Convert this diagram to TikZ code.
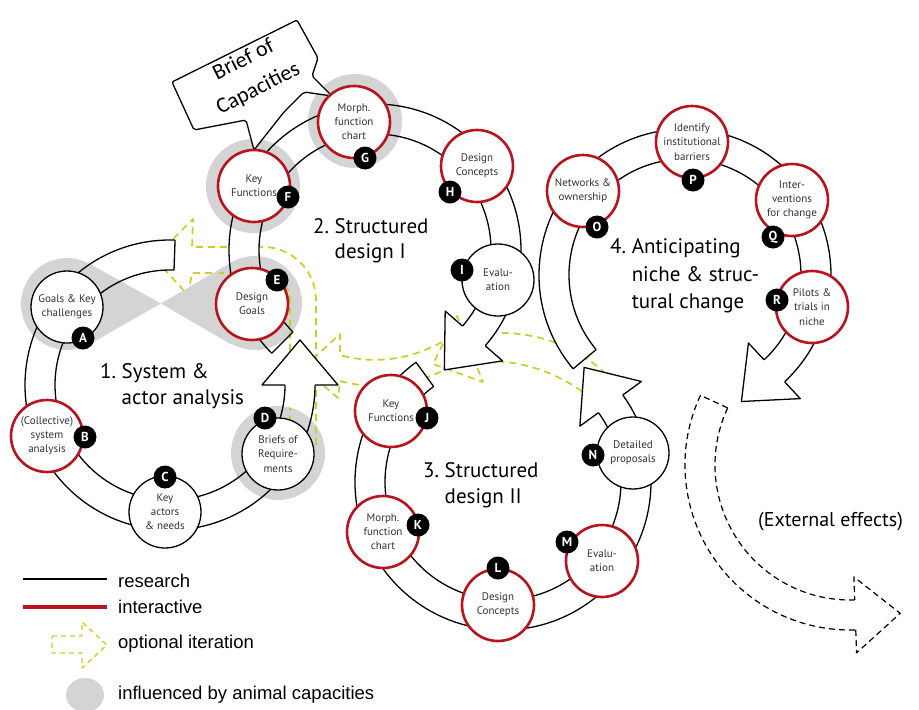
\documentclass[tikz,border=0pt]{standalone}
\usepackage{fontspec}
\setmainfont{PT Sans}
\newfontfamily\calfont{Carlito}
\newfontfamily\legfont{Liberation Sans}
\usetikzlibrary{calc}
\definecolor{ired}{RGB}{185,20,30}
\definecolor{lgrey}{RGB}{212,212,212}
\definecolor{iyel}{RGB}{205,205,40}
\definecolor{ntxt}{RGB}{50,50,50}

\newcommand{\BandFill}[5]{%
  \pgfmathsetmacro\bfRin{#3-15}\pgfmathsetmacro\bfRout{#3+15}%
  \fill[white] ($(#1,#2)+(#4:\bfRout)$) arc[start angle=#4,end angle=#5,radius=\bfRout]
    -- ($(#1,#2)+(#5:\bfRin)$) arc[start angle=#5,end angle=#4,radius=\bfRin] -- cycle;}
\newcommand{\BandLine}[6]{%
  \pgfmathsetmacro\blRin{#3-15}\pgfmathsetmacro\blRout{#3+15}%
  \draw[#6] ($(#1,#2)+(#4:\blRout)$) arc[start angle=#4,end angle=#5,radius=\blRout];
  \draw[#6] ($(#1,#2)+(#4:\blRin)$) arc[start angle=#4,end angle=#5,radius=\blRin];
  \draw[#6] ($(#1,#2)+(#4:\blRin)$) -- ($(#1,#2)+(#4:\blRout)$);}
\newcommand{\BandHead}[6]{%
  \pgfmathsetmacro\bhA{#3+15}\pgfmathsetmacro\bhB{#3+38}%
  \pgfmathsetmacro\bhC{#3-38}\pgfmathsetmacro\bhD{#3-15}\pgfmathsetmacro\bhT{#4+90*(#5)}%
  \coordinate (hn1) at ($(#1,#2)+(#4:\bhA)$);
  \coordinate (hw1) at ($(#1,#2)+(#4:\bhB)$);
  \coordinate (htp) at ($(#1,#2)+(#4:#3)+(\bhT:45)$);
  \coordinate (hw2) at ($(#1,#2)+(#4:\bhC)$);
  \coordinate (hn2) at ($(#1,#2)+(#4:\bhD)$);
  \fill[white] (hn1)--(hw1)--(htp)--(hw2)--(hn2)--cycle;
  \draw[#6] (hn1)--(hw1)--(htp)--(hw2)--(hn2);}
\newcommand{\YArrows}{%
  \draw[yel] (316,445) -- (316,300) arc[start angle=0,end angle=-90,radius=53] -- (192,247)
     -- (193,219) -- (154,258) -- (188,295) -- (192,273) -- (263,273)
     arc[start angle=-90,end angle=0,radius=27] -- (290,445);
  \draw[yel] (452,336) .. controls (418,358) and (378,366) .. (340,355) -- (340,334)
     -- (303,368) -- (338,398) -- (340,381) .. controls (380,392) and (425,384) .. (462,360);
  \draw[yel] (606,374) .. controls (570,340) and (520,326) .. (465,336) -- (457,316)
     -- (433,364) -- (483,382) -- (475,362) .. controls (520,358) and (555,372) .. (586,394);}

\tikzset{
 nd/.style={circle, minimum size=72pt, inner sep=0pt, fill=white, align=center, text=ntxt, font=\fontsize{11}{14.2}\selectfont},
 rnode/.style={nd, draw=ired, line width=2.6pt},
 knode/.style={nd, draw=black, line width=1.3pt},
 badge/.style={circle, fill=black, text=white, minimum size=23pt, inner sep=0pt, font=\bfseries\fontsize{13}{13}\selectfont},
 ring/.style={line width=1.3pt},
 extl/.style={line width=1.2pt, dash pattern=on 6pt off 4pt},
 yel/.style={iyel, line width=1.7pt, dash pattern=on 7pt off 5pt},
 ttl/.style={anchor=base west, inner sep=0pt, font=\fontsize{21}{21}\selectfont},
 leg/.style={anchor=base west, inner sep=0pt, font=\legfont\fontsize{18.5}{18.5}\selectfont},
}

\begin{document}
\begin{tikzpicture}[x=1pt,y=-1pt,line join=round]
\useasboundingbox (0,0) rectangle (919,710);
\fill[white] (0,0) rectangle (919,710);

% yellow optional iterations (beneath)
\YArrows

% band fills
\BandFill{170}{385}{130}{-88}{-360}
\BandFill{375}{250}{131}{135}{401}
\BandFill{503}{482}{133}{234}{-36}
\BandFill{685}{275}{131}{140}{407}

% grey influence areas
\fill[lgrey] (67,304) circle[radius=46] (255,303) circle[radius=47];
\fill[lgrey] (161,303.5) -- (89.5,263.9) -- (89.5,344.1) -- cycle;
\fill[lgrey] (161,303.5) -- (231.5,262.3) -- (231.5,344.7) -- cycle;
\fill[lgrey] (278,453) circle[radius=47] (253,186) circle[radius=47] (355,121) circle[radius=47];

\begin{scope}
\clip (255,303) circle[radius=47] (278,453) circle[radius=47];
\YArrows
\end{scope}

% band outlines
\BandLine{170}{385}{130}{-88}{-360}{ring}
\BandLine{375}{250}{131}{135}{401}{ring}
\BandLine{503}{482}{133}{234}{-36}{ring}
\BandLine{685}{275}{131}{140}{407}{ring}
\BandLine{850}{465}{150}{205}{88}{extl}

% arrow heads
\BandHead{170}{385}{130}{-360}{-1}{ring}
\BandHead{375}{250}{131}{401}{1}{ring}
\BandHead{503}{482}{133}{-36}{-1}{ring}
\BandHead{685}{275}{131}{407}{1}{ring}
\BandHead{850}{465}{150}{88}{-1}{extl}

% callout
\draw[line width=1.3pt, fill=white, rounded corners=2pt] (172,82) -- (297,20) -- (318,58) -- (312,76)
  -- (332,96) -- (304,92) -- (284,112) -- (254,150) -- (246,120) -- (194,130) -- cycle;
\node[rotate=27, align=center, inner sep=0pt, font=\calfont\fontsize{22}{32}\selectfont] (cap) at (251,74.5) {Brief of\\Capacities};

% nodes
\node[knode] (A) at (67,307) {Goals \& Key\\challenges};
\node[rnode] (B) at (47,436) {(Collective)\\system\\analysis};
\node[knode] (C) at (165,512) {Key\\actors\\\& needs};
\node[knode] (D) at (278,454) {Briefs of\\Require-\\ments};
\node[rnode] (E) at (252,304) {Design\\Goals};
\node[rnode] (F) at (254,186) {Key\\Functions};
\node[rnode] (G) at (354,122) {Morph.\\function\\chart};
\node[rnode] (H) at (477,166) {Design\\Concepts};
\node[knode] (I) at (498,280) {Evalu-\\ation};
\node[rnode] (J) at (391,411) {Key\\Functions};
\node[rnode] (K) at (383,532) {Morph.\\function\\chart};
\node[rnode] (L) at (498,605) {Design\\Concepts};
\node[rnode] (M) at (602,561) {Evalu-\\ation};
\node[knode] (N) at (633,453) {Detailed\\proposals};
\node[rnode] (O) at (583,191) {Networks \&\\ownership};
\node[rnode] (P) at (692,142) {Identify\\institutional\\barriers};
\node[rnode] (Q) at (792,200) {Inter-\\ventions\\for change};
\node[rnode] (R) at (812,307) {Pilots \&\\trials in\\niche};

% badges
\node[badge] (bA) at (83,338) {A};
\node[badge] (bB) at (85,437) {B};
\node[badge] (bC) at (165,477) {C};
\node[badge] (bD) at (265,418) {D};
\node[badge] (bE) at (277,280) {E};
\node[badge] (bF) at (288,197) {F};
\node[badge] (bG) at (365,158) {G};
\node[badge] (bH) at (450,192) {H};
\node[badge] (bI) at (462,270) {I};
\node[badge] (bJ) at (427,418) {J};
\node[badge] (bK) at (418,525) {K};
\node[badge] (bL) at (498,568) {L};
\node[badge] (bM) at (567,542) {M};
\node[badge] (bN) at (593,455) {N};
\node[badge] (bO) at (597,227) {O};
\node[badge] (bP) at (693,180) {P};
\node[badge] (bQ) at (773,237) {Q};
\node[badge] (bR) at (777,300) {R};

% titles
\node[ttl] (t1a) at (100,378) {1.~System \&};
\node[ttl] (t1b) at (100,404) {\hphantom{1.~}actor analysis};
\node[ttl] (t2a) at (313,233) {2.~Structured};
\node[ttl] (t2b) at (313,258) {\hphantom{2.~}design I};
\node[ttl] (t3a) at (423,477) {3.~Structured};
\node[ttl] (t3b) at (423,503) {\hphantom{3.~}design II};
\node[ttl] (t4a) at (610,253) {4.~Anticipating};
\node[ttl] (t4b) at (610,281) {\hphantom{4.~}niche \& struc-};
\node[ttl] (t4c) at (610,308) {\hphantom{4.~}tural change};
\node[anchor=base west, inner sep=0pt, font=\fontsize{20}{20}\selectfont] (ext) at (758,526) {(External effects)};

% legend
\draw[line width=1.4pt] (23,579) coordinate (l1a) -- (107,579) coordinate (l1b);
\node[leg] (lg1) at (118,587) {research};
\draw[ired, line width=3.5pt] (23,607) coordinate (l2a) -- (107,607) coordinate (l2b);
\node[leg] (lg2) at (118,613) {interactive};
\draw[yel, line width=1.4pt, dash pattern=on 5pt off 4pt] (52,636) -- (82,636) -- (82,622) -- (107,645) -- (82,668) -- (82,653) -- (52,653) -- cycle;
\node[leg] (lg3) at (118,648) {optional iteration};
\fill[lgrey] (85,695) ellipse[x radius=19, y radius=17];
\node[leg] (lg4) at (118,699) {influenced by animal capacities};
\end{tikzpicture}
\end{document}
